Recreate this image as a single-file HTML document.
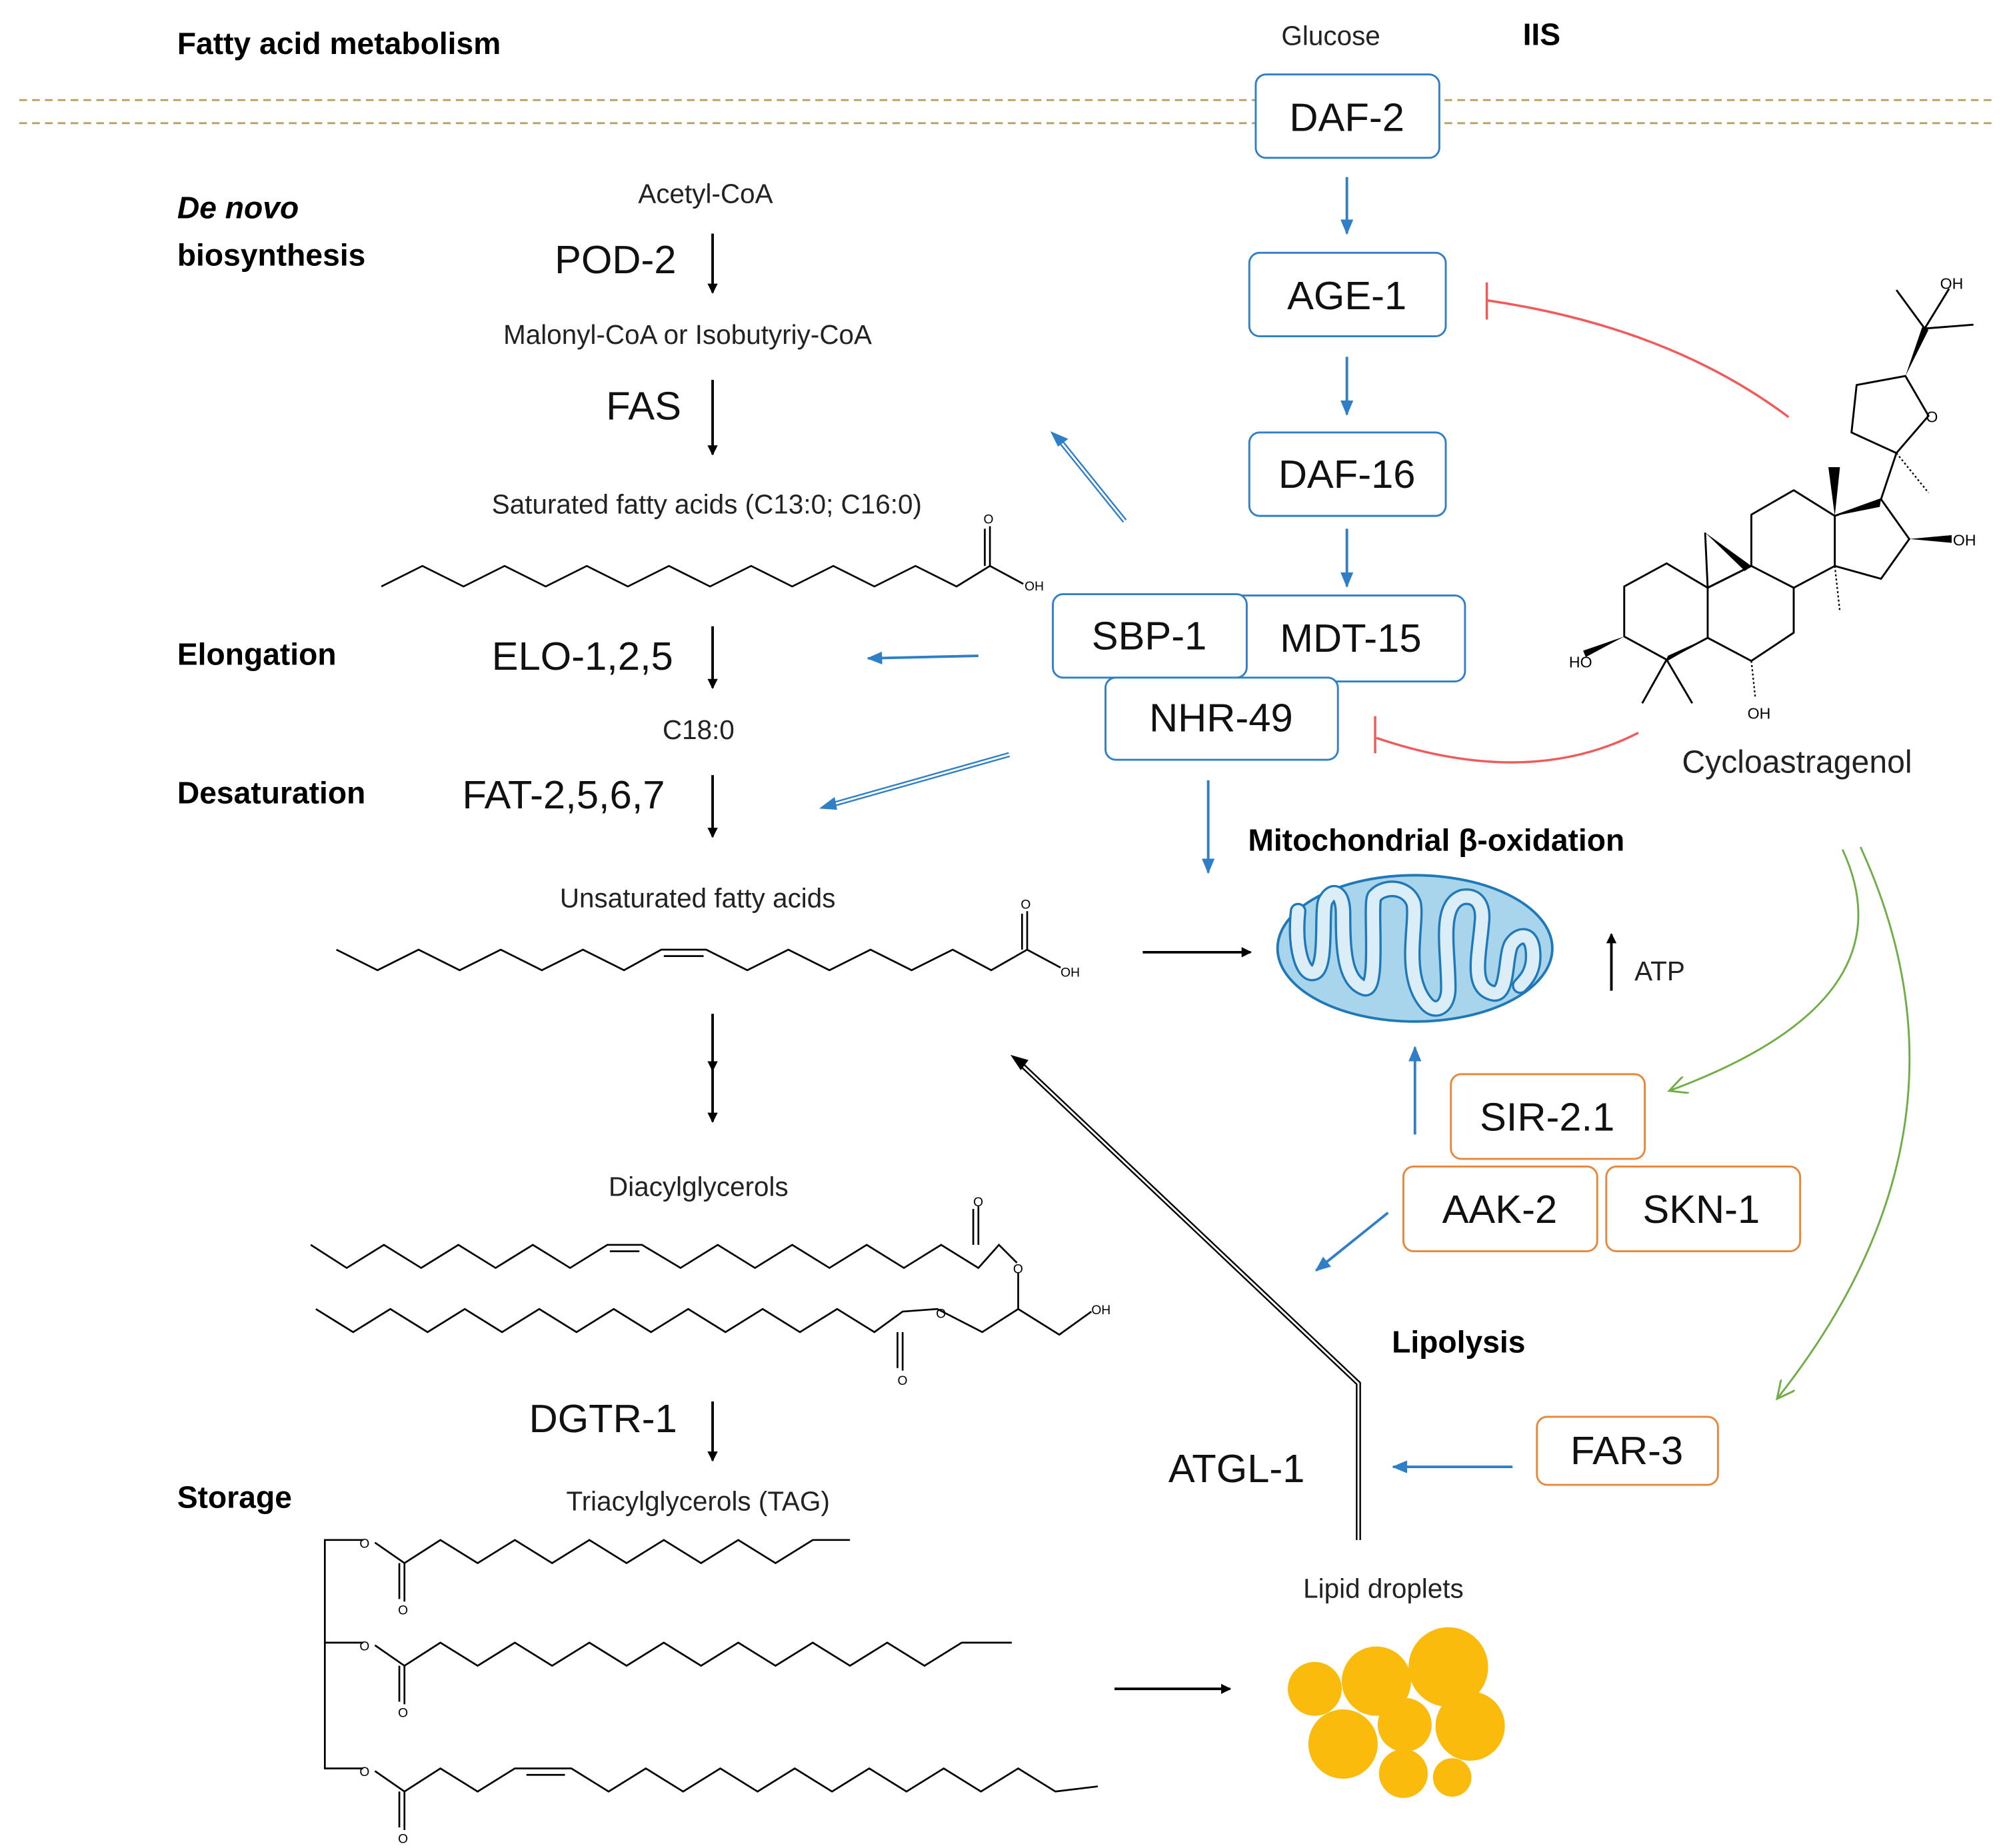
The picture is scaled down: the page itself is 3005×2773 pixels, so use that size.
<!DOCTYPE html>
<html><head><meta charset="utf-8"><style>
html,body{margin:0;padding:0;background:#fff}
svg{display:block}
text{font-family:"Liberation Sans","DejaVu Sans",sans-serif}
</style></head><body>
<svg width="3005" height="2773" viewBox="0 0 1560 1440" preserveAspectRatio="none" xmlns="http://www.w3.org/2000/svg">
<defs>
<marker id="ab" markerWidth="8" markerHeight="8" refX="7" refY="4" orient="auto" markerUnits="userSpaceOnUse"><path d="M0,0 L8,4 L0,8 z" fill="#000"/></marker>
<marker id="abl" markerWidth="12" markerHeight="10" refX="11" refY="5" orient="auto" markerUnits="userSpaceOnUse"><path d="M0,0 L12,5 L0,10 z" fill="#2f7fc8"/></marker>
<marker id="ag" markerWidth="16" markerHeight="14" refX="14" refY="7" orient="auto" markerUnits="userSpaceOnUse"><path d="M0,0 L14,7 L0,14" fill="none" stroke="#70ad47" stroke-width="1.5"/></marker>
</defs>
<rect width="1560" height="1440" fill="#fff"/>
<line x1="15" y1="78" x2="1555" y2="78" stroke="#b8a060" stroke-width="1.5" stroke-dasharray="6,4"/>
<line x1="15" y1="96" x2="1555" y2="96" stroke="#b8a060" stroke-width="1.5" stroke-dasharray="6,4"/>

<g font-size="24" font-weight="bold" fill="#000">
<text x="138" y="42">Fatty acid metabolism</text>
<text x="138" y="170" font-style="italic">De novo</text>
<text x="138" y="207">biosynthesis</text>
<text x="138" y="518">Elongation</text>
<text x="138" y="626">Desaturation</text>
<text x="138" y="1175">Storage</text>
<text x="1186" y="35">IIS</text>
<text x="972" y="663">Mitochondrial β-oxidation</text>
<text x="1084" y="1054">Lipolysis</text>
</g>
<g font-size="21" fill="#222">
<text x="998" y="35">Glucose</text>
<text x="497" y="158">Acetyl-CoA</text>
<text x="392" y="268">Malonyl-CoA or Isobutyriy-CoA</text>
<text x="383" y="400">Saturated fatty acids (C13:0; C16:0)</text>
<text x="516" y="576">C18:0</text>
<text x="436" y="707">Unsaturated fatty acids</text>
<text x="474" y="932">Diacylglycerols</text>
<text x="441" y="1177">Triacylglycerols (TAG)</text>
<text x="1015" y="1245">Lipid droplets</text>
<text x="1273" y="764">ATP</text>
<text x="1310" y="602" font-size="25">Cycloastragenol</text>
</g>
<g font-size="31" fill="#111">
<text x="432" y="213">POD-2</text>
<text x="472" y="327">FAS</text>
<text x="383" y="522">ELO-1,2,5</text>
<text x="360" y="630">FAT-2,5,6,7</text>
<text x="412" y="1116">DGTR-1</text>
<text x="910" y="1155">ATGL-1</text>
</g>

<g stroke="#000" stroke-width="2" marker-end="url(#ab)">
<line x1="555" y1="182" x2="555" y2="228"/>
<line x1="555" y1="296" x2="555" y2="354"/>
<line x1="555" y1="488" x2="555" y2="536"/>
<line x1="555" y1="604" x2="555" y2="652"/>
<line x1="555" y1="790" x2="555" y2="834"/>
<line x1="555" y1="830" x2="555" y2="874"/>
<line x1="555" y1="1092" x2="555" y2="1138"/>
<line x1="890" y1="742" x2="974" y2="742"/>
<line x1="868" y1="1316" x2="958" y2="1316"/>
<line x1="1255" y1="772" x2="1255" y2="728"/>
</g>

<g fill="#fff" stroke="#2f7fc8" stroke-width="1.5">
<rect x="978" y="58" width="143" height="65" rx="8"/>
<rect x="973" y="197" width="153" height="65" rx="8"/>
<rect x="973" y="337" width="153" height="65" rx="8"/>
<rect x="960" y="464" width="181" height="67" rx="8"/>
<rect x="820" y="463" width="151" height="65" rx="8"/>
<rect x="861" y="528" width="181" height="64" rx="8"/>
</g>
<g font-size="31" fill="#111" text-anchor="middle">
<text x="1049" y="102">DAF-2</text>
<text x="1049" y="241">AGE-1</text>
<text x="1049" y="380">DAF-16</text>
<text x="1052" y="508">MDT-15</text>
<text x="895" y="506">SBP-1</text>
<text x="951" y="570">NHR-49</text>
</g>
<g stroke="#2f7fc8" stroke-width="2" marker-end="url(#abl)">
<line x1="1049" y1="138" x2="1049" y2="182"/>
<line x1="1049" y1="278" x2="1049" y2="323"/>
<line x1="1049" y1="412" x2="1049" y2="457"/>
<line x1="941" y1="608" x2="941" y2="680"/>
<line x1="1102" y1="884" x2="1102" y2="816"/>
<line x1="1178" y1="1143" x2="1085" y2="1143"/>
<line x1="1081" y1="945" x2="1025" y2="990"/>
<line x1="762" y1="511" x2="676" y2="513"/>
</g>
<g stroke="#2f7fc8" stroke-width="4" fill="none">
<line x1="876" y1="406" x2="826" y2="344"/>
<line x1="786" y1="588" x2="648" y2="627"/>
</g>
<g stroke="#fff" stroke-width="1.5" fill="none">
<line x1="876" y1="406" x2="826" y2="344"/>
<line x1="786" y1="588" x2="648" y2="627"/>
</g>
<path d="M818,336 l14,6 l-8,6 z" fill="#2f7fc8"/>
<path d="M638,630 l12,-9 l2,10 z" fill="#2f7fc8"/>

<polyline points="1058,1200 1058,1078 796,830" fill="none" stroke="#000" stroke-width="4"/>
<polyline points="1058,1200 1058,1078 796,830" fill="none" stroke="#fff" stroke-width="1.5"/>
<path d="M787,822 l14,4 l-6,8 z" fill="#000"/>

<g stroke="#f05a5a" stroke-width="1.8" fill="none">
<path d="M1393,325 Q1300,255 1158,234"/>
<line x1="1158" y1="220" x2="1158" y2="249"/>
<path d="M1276,571 Q1190,615 1072,575"/>
<line x1="1071" y1="558" x2="1071" y2="587"/>
</g>
<g stroke="#70ad47" stroke-width="1.5" fill="none" marker-end="url(#ag)">
<path d="M1435,662 Q1490,780 1300,850"/>
<path d="M1449,660 Q1550,880 1384,1090"/>
</g>

<g fill="#fff" stroke="#e8873a" stroke-width="1.5">
<rect x="1130" y="837" width="151" height="66" rx="8"/>
<rect x="1093" y="909" width="151" height="66" rx="8"/>
<rect x="1251" y="909" width="151" height="66" rx="8"/>
<rect x="1197" y="1104" width="141" height="53" rx="8"/>
</g>
<g font-size="31" fill="#111" text-anchor="middle">
<text x="1205" y="881">SIR-2.1</text>
<text x="1168" y="953">AAK-2</text>
<text x="1325" y="953">SKN-1</text>
<text x="1267" y="1141">FAR-3</text>
</g>

<!-- mitochondrion -->
<ellipse cx="1102" cy="739" rx="107" ry="57" fill="#a8d5ec" stroke="#1f78b8" stroke-width="2"/>
<g fill="none" stroke-linejoin="round" stroke-linecap="round">
<path id="cr" d="M1011,710 C1008,740 1015,760 1023,758 C1035,756 1028,705 1033,701 C1038,692 1046,695 1046,712 C1046,740 1047,765 1063,770 C1075,772 1066,700 1071,698 C1078,690 1096,690 1101,704 C1104,720 1092,760 1111,782 C1118,790 1128,785 1128,770 C1128,740 1120,705 1139,699 C1150,697 1156,705 1154,720 C1152,745 1145,770 1163,774 C1175,776 1172,745 1177,736 C1182,728 1193,725 1194,742 C1195,755 1190,762 1184,768" stroke="#1f78b8" stroke-width="13"/>
<path d="M1011,710 C1008,740 1015,760 1023,758 C1035,756 1028,705 1033,701 C1038,692 1046,695 1046,712 C1046,740 1047,765 1063,770 C1075,772 1066,700 1071,698 C1078,690 1096,690 1101,704 C1104,720 1092,760 1111,782 C1118,790 1128,785 1128,770 C1128,740 1120,705 1139,699 C1150,697 1156,705 1154,720 C1152,745 1145,770 1163,774 C1175,776 1172,745 1177,736 C1182,728 1193,725 1194,742 C1195,755 1190,762 1184,768" stroke="#dbeef8" stroke-width="9.5"/>
</g>

<g fill="#fbbb0c">
<circle cx="1128" cy="1299" r="31"/>
<circle cx="1072" cy="1310" r="27"/>
<circle cx="1024" cy="1316" r="21"/>
<circle cx="1145" cy="1345" r="27"/>
<circle cx="1094" cy="1344" r="21"/>
<circle cx="1046" cy="1359" r="27"/>
<circle cx="1093" cy="1382" r="19"/>
<circle cx="1131" cy="1385" r="15"/>
</g>

<g stroke="#000" stroke-width="1.4" fill="none">
<polyline points="297,457 329,441 361,457 393,441 425,457 457,441 489,457 521,441 553,457 585,441 617,457 649,441 681,457 713,441 745,457 771,441 797,455"/>
<line x1="771" y1="441" x2="771" y2="410"/><line x1="767" y1="441" x2="767" y2="412"/>
<polyline points="262,740 294,756 326,740 358,756 390,740 422,756 454,740 486,756 515,740 550,740 582,756 614,740 646,756 678,740 710,756 742,740 772,756 800,740 826,754"/>
<line x1="517" y1="745" x2="548" y2="745"/>
<line x1="800" y1="740" x2="800" y2="710"/><line x1="796" y1="740" x2="796" y2="712"/>
<polyline points="242,970 270,988 299,970 328,988 357,970 386,988 415,970 444,988 473,970 500,970 530,988 559,970 588,988 617,970 646,988 675,970 704,988 733,970 762,988 778,970 792,984"/>
<line x1="475" y1="975" x2="498" y2="975"/>
<line x1="762" y1="970" x2="762" y2="940"/><line x1="758" y1="970" x2="758" y2="942"/>
<polyline points="246,1020 275,1038 304,1020 333,1038 362,1020 391,1038 420,1020 449,1038 478,1020 507,1038 536,1020 565,1038 594,1020 623,1038 652,1020 681,1038 703,1022 730,1020 765,1038 793,1020 825,1040 850,1022"/>
<line x1="793" y1="1020" x2="793" y2="992"/>
<line x1="703" y1="1038" x2="703" y2="1068"/><line x1="699" y1="1038" x2="699" y2="1066"/>
<polyline points="283,1200 253,1200 253,1378 283,1378"/>
<line x1="253" y1="1280" x2="283" y2="1280"/>
<polyline points="292,1202 315,1218 343,1200 372,1218 401,1200 430,1218 459,1200 488,1218 517,1200 546,1218 575,1200 604,1218 633,1200 662,1200"/>
<polyline points="292,1282 315,1298 343,1280 372,1298 401,1280 430,1298 459,1280 488,1298 517,1280 546,1298 575,1280 604,1298 633,1280 662,1298 691,1280 720,1298 749,1280 788,1280"/>
<polyline points="292,1380 315,1396 343,1378 372,1396 401,1378 445,1378 474,1396 503,1378 532,1396 561,1378 590,1396 619,1378 648,1396 677,1378 706,1396 735,1378 764,1396 793,1378 822,1396 855,1392"/>
<line x1="410" y1="1383" x2="440" y2="1383"/>
<line x1="315" y1="1218" x2="315" y2="1248"/><line x1="311" y1="1218" x2="311" y2="1246"/>
<line x1="315" y1="1298" x2="315" y2="1328"/><line x1="311" y1="1298" x2="311" y2="1326"/>
<line x1="315" y1="1396" x2="315" y2="1426"/><line x1="311" y1="1396" x2="311" y2="1424"/>
</g>
<g font-size="10" fill="#000">
<text x="766" y="408">O</text><text x="798" y="460">OH</text>
<text x="795" y="708">O</text><text x="826" y="761">OH</text>
<text x="758" y="940">O</text><text x="789" y="992">O</text><text x="729" y="1027">O</text><text x="699" y="1079">O</text><text x="850" y="1024">OH</text>
<text x="280" y="1206">O</text><text x="310" y="1258">O</text>
<text x="280" y="1286">O</text><text x="310" y="1338">O</text>
<text x="280" y="1384">O</text><text x="310" y="1436">O</text>
</g>

<!-- Cycloastragenol -->
<g stroke="#000" stroke-width="1.5" fill="none" stroke-linejoin="round">
<polyline points="1330,458 1298,439 1265,457 1265,496 1298,514 1330,497 1330,458"/>
<polyline points="1330,458 1364,441 1397,458 1397,493 1364,515 1330,497"/>
<polyline points="1364,441 1364,401 1397,382 1429,402 1429,441 1397,458"/>
<polyline points="1429,402 1465,389 1487,420 1465,451 1429,441"/>
<polyline points="1465,389 1477,353 1442,337 1446,300 1484,293 1502,324 1477,353"/>
<polyline points="1477,226 1499,256 1537,253"/>
<line x1="1499" y1="256" x2="1518" y2="225"/>
<line x1="1298" y1="514" x2="1279" y2="548"/><line x1="1298" y1="514" x2="1318" y2="548"/>
<line x1="1330" y1="458" x2="1328" y2="415"/>
<line x1="1330" y1="458" x2="1364" y2="441"/>
</g>
<g fill="#000">
<path d="M1328,415 l36,26 l-5,4 z"/>
<path d="M1429,402 l-5,-38 l9,0 z"/>
<path d="M1265,496 l-30,16 l-2,-5 z"/>
<path d="M1330,497 l-33,19 l2,-5 z"/>
<path d="M1429,402 l36,-13 l-1,6 z"/>
<path d="M1487,420 l33,-3 l0,6 z"/>
<path d="M1484,293 l13,-38 l5,2 z"/>
</g>
<g stroke="#000" stroke-width="1.2" stroke-dasharray="1.5,1.8">
<line x1="1429" y1="441" x2="1433" y2="477"/>
<line x1="1397" y1="458" x2="1397" y2="492"/>
<line x1="1364" y1="515" x2="1367" y2="543"/>
<line x1="1477" y1="353" x2="1502" y2="384"/>
</g>
<g font-size="12" fill="#000">
<text x="1222" y="520">HO</text><text x="1361" y="560">OH</text><text x="1521" y="425">OH</text><text x="1500" y="329">O</text><text x="1511" y="225">OH</text>
</g>
</svg>
</body></html>
